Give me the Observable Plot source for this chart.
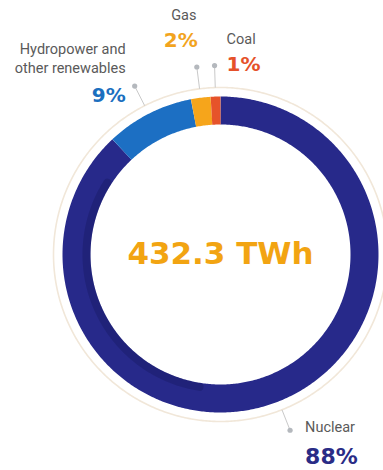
<!DOCTYPE html>
<html><head><meta charset="utf-8">
<script src="https://cdn.jsdelivr.net/npm/d3@7"></script>
<script src="https://cdn.jsdelivr.net/npm/@observablehq/plot@0.6"></script>
<style>html,body{margin:0;padding:0;background:#fff} svg{display:block}</style>
</head><body><div id="chart"></div>
<script>
// ---- data ----
const sources = ["Nuclear", "Hydropower and\nother renewables", "Gas", "Coal"];
const shares = [88, 9, 2, 1];
const percentLabels = ["88%", "9%", "2%", "1%"];
const totalLabel = "432.3 TWh";

// ---- styles / layout ----
const sliceColors = ["#27298a", "#1c6fc3", "#f6a51b", "#e6532a"];
const pctColors = ["#2a2c86", "#1b6fbf", "#f2a41e", "#e5512a"];
const W = 383, H = 470, CX = 220, CY = 254;
const R_MID = 144, RING = 28, R_GUIDE = 167, R_DOT = 189;
// label offsets from each leader dot (px): name dx, name dy, pct dx, pct dy, anchor
const labelLayout = [
  {ndx: 15, ndy: 2, pdx: 15, pdy: 34, anchor: "start"},
  {ndx: -9, ndy: -13, pdx: -9, pdy: 16, anchor: "end"},
  {ndx: -13, ndy: -47, pdx: -16, pdy: -20, anchor: "middle"},
  {ndx: 12, ndy: -22, pdx: 12, pdy: 5, anchor: "start"}
];
const labelFont = "Roboto, 'Liberation Sans', sans-serif";
const boldFont = "'DejaVu Sans', sans-serif";

// ---- derived geometry (from shares) ----
const pie = d3.pie().sort(null).value(d => d)(shares);
const polar = (r, a) => ({x: r * Math.sin(a), y: r * Math.cos(a)});
function arcPoints(r, a0, a1, key) {
  const n = Math.max(2, Math.ceil((a1 - a0) / 0.01));
  return d3.range(n + 1).map(k => ({...polar(r, a0 + (a1 - a0) * k / n), key}));
}
const ringPts = pie.flatMap((p, i) => arcPoints(R_MID, p.startAngle, p.endAngle, i));
const guidePts = arcPoints(R_GUIDE, 0, 2 * Math.PI, "g");
const shadowPts = arcPoints(R_MID - RING / 2 + 4, Math.PI * 1.05, Math.PI * 1.68, "s");
const mids = pie.map((p, i) => {
  const a = (p.startAngle + p.endAngle) / 2;
  const inner = polar(R_GUIDE, a), outer = polar(R_DOT, a);
  return {i, x1: inner.x, y1: inner.y, x: outer.x, y: outer.y,
    name: sources[i], pct: percentLabels[i], ...labelLayout[i]};
});

const chart = Plot.plot({
  width: W, height: H,
  margin: 0,
  x: {domain: [-CX, W - CX], axis: null},
  y: {domain: [-(H - CY), CY], axis: null},
  color: {type: "identity"},
  marks: [
    Plot.line(guidePts, {x: "x", y: "y", z: "key", stroke: "#f1e7d9", strokeWidth: 1.6}),
    Plot.line(ringPts, {x: "x", y: "y", z: "key", stroke: d => sliceColors[d.key], strokeWidth: RING, strokeLinecap: "butt"}),
    Plot.line(shadowPts, {x: "x", y: "y", z: "key", stroke: "#15175a", strokeOpacity: 0.35, strokeWidth: 8, strokeLinecap: "round"}),
    Plot.link(mids, {x1: "x1", y1: "y1", x2: "x", y2: "y", stroke: "#c9c9c9", strokeWidth: 1}),
    Plot.dot(mids, {x: "x", y: "y", r: 2.6, fill: "#b4b8bd"}),
    ...mids.map(m => Plot.text([m], {x: "x", y: "y", text: "name", dx: m.ndx, dy: m.ndy,
      textAnchor: m.anchor, lineAnchor: "bottom", lineHeight: 1.345,
      fontFamily: labelFont, fontSize: 14.5, fill: "#5a5a5a"})),
    ...mids.map(m => Plot.text([m], {x: "x", y: "y", text: "pct", dx: m.pdx, dy: m.pdy,
      textAnchor: m.anchor, lineAnchor: "bottom",
      fontFamily: boldFont, fontWeight: "bold", fontSize: m.i === 0 ? 22 : 20, fill: pctColors[m.i]})),
    Plot.text([totalLabel], {x: () => 0, y: () => 0, text: d => d, dy: 9, lineAnchor: "bottom",
      fontFamily: boldFont, fontWeight: "bold", fontSize: 31, fill: "#f2a412"})
  ]
});
document.getElementById("chart").appendChild(chart);
</script>
</body></html>
